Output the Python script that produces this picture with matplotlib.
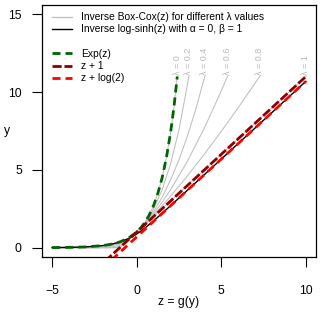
import matplotlib
matplotlib.use("Agg")
import matplotlib.pyplot as plt
from matplotlib.lines import Line2D

plt.rcParams['font.family'] = ['Liberation Sans', 'DejaVu Sans']

# Inverse Box-Cox curves, one (z, y) list per lambda
lambdas = [0, 0.2, 0.4, 0.6, 0.8, 1]

bc_z = {
    0: [-5, -4, -3, -2, -1.5, -1, -0.5, 0, 0.25, 0.5, 0.75, 1, 1.25, 1.5, 1.75, 2, 2.2, 2.398],
    0.2: [-5, -4, -3, -2, -1.5, -1, -0.5, 0, 0.5, 1, 1.5, 2, 2.5, 3, 3.077],
    0.4: [-5, -2.5, -2.25, -2, -1.5, -1, -0.5, 0, 0.5, 1, 1.5, 2, 2.5, 3, 3.5, 4.024],
    0.6: [-5, -1.667, -1.5, -1.25, -1, -0.5, 0, 0.5, 1, 1.5, 2, 3, 4, 5, 5.359],
    0.8: [-5, -1.25, -1.125, -1, -0.75, -0.5, 0, 0.5, 1, 2, 3, 4, 5, 6, 7, 7.262],
    1: [-5, -1, 10],
}
bc_y = {
    0: [0.0067, 0.0183, 0.0498, 0.1353, 0.2231, 0.3679, 0.6065, 1, 1.2840, 1.6487, 2.1170,
        2.7183, 3.4903, 4.4817, 5.7546, 7.3891, 9.0250, 11.0],
    0.2: [0, 0.00032, 0.01024, 0.07776, 0.16807, 0.32768, 0.59049, 1, 1.61051, 2.48832,
          3.71293, 5.37824, 7.59375, 10.48576, 11.0],
    0.4: [0, 0, 0.00316, 0.01789, 0.1012, 0.2789, 0.5724, 1, 1.5774, 2.3191, 3.2382, 4.3469,
          5.6569, 7.1789, 8.9234, 11.0],
    0.6: [0, 0, 0.0215, 0.0992, 0.2172, 0.5519, 1, 1.5485, 2.1887, 2.9147, 3.7214, 5.5626,
          7.6875, 10.0794, 11.0],
    0.8: [0, 0, 0.0562, 0.1337, 0.3181, 0.5281, 1, 1.5229, 2.0851, 3.3016, 4.6167, 6.0122,
          7.4767, 9.0008, 10.5786, 11.0],
    1: [0, 0, 11.0],
}

# inverse log-sinh, alpha = 0, beta = 1
ls_z = [-5, -4, -3, -2, -1.5, -1, -0.5, -0.25, 0, 0.25, 0.5, 1, 1.5, 2, 2.5, 3, 4, 10]
ls_y = [0.0067, 0.0183, 0.0498, 0.1349, 0.2213, 0.3601, 0.5744, 0.7160, 0.8814, 1.0687,
        1.2745, 1.7254, 2.2054, 2.6977, 3.1948, 3.6938, 4.6932, 10.6931]

# straight lines
line_z = [-5, 10]
zp1_y = [-4, 11]
zlog2_y = [-4.3069, 10.6931]

short_dash = (2.9, 1.8)
long_dash = (3.3, 1.0)


def plot():
    fig = plt.figure(figsize=(3.2, 3.12), dpi=100)
    ax = fig.add_axes([42 / 320, 1 - 257 / 312, 274 / 320, 252 / 312])

    for lam in lambdas:
        ax.plot(bc_z[lam], bc_y[lam], color='#BEBEBE', lw=0.75, zorder=2)
        ax.text(bc_z[lam][-1], 11.1, u'\u03bb = %g' % lam, rotation=90,
                ha='center', va='bottom', color='#B8B8B8', fontsize=6.5)

    ax.plot(ls_z, ls_y, color='black', lw=1.0, zorder=3)
    ax.plot(bc_z[0], bc_y[0], color='darkgreen', lw=2.0, dashes=short_dash, zorder=4)
    ax.plot(line_z, zp1_y, color='darkred', lw=2.0, dashes=long_dash, zorder=4)
    ax.plot(line_z, zlog2_y, color='red', lw=2.0, dashes=short_dash, zorder=4)

    ax.set_xlim(-5.6, 10.6)
    ax.set_ylim(-0.6, 15.6)
    ax.set_xticks([-5, 0, 5, 10])
    ax.set_yticks([0, 5, 10, 15])
    ax.tick_params(axis='both', length=7, width=0.8, labelsize=8.7)
    ax.tick_params(axis='x', pad=13)
    ax.tick_params(axis='y', pad=7.5)
    for s in ax.spines.values():
        s.set_linewidth(0.9)

    ax.set_xlabel('z = g(y)', fontsize=8.7, va='center')
    ax.xaxis.set_label_coords(0.5, -0.179)
    ax.set_ylabel('y', fontsize=8.7, rotation=0, va='center', ha='center')
    ax.yaxis.set_label_coords(-0.128, 0.5)

    handles = [
        Line2D([], [], color='#BEBEBE', lw=0.9),
        Line2D([], [], color='black', lw=1.0),
        Line2D([], [], color='none'),
        Line2D([], [], color='darkgreen', lw=2.0, dashes=short_dash),
        Line2D([], [], color='darkred', lw=2.0, dashes=long_dash),
        Line2D([], [], color='red', lw=2.0, dashes=short_dash),
    ]
    labels = [
        u'Inverse Box-Cox(z) for different \u03bb values',
        u'Inverse log-sinh(z) with \u03b1 = 0, \u03b2 = 1',
        ' ',
        'Exp(z)',
        'z + 1',
        'z + log(2)',
    ]
    ax.legend(handles, labels, loc='upper left', frameon=False, fontsize=7.4,
              handlelength=2.0, handletextpad=0.85, labelspacing=0.22,
              borderaxespad=0.3, bbox_to_anchor=(0.01, 1.0))

    fig.savefig('out.png', dpi=100)


if __name__ == "__main__":
    plot()
